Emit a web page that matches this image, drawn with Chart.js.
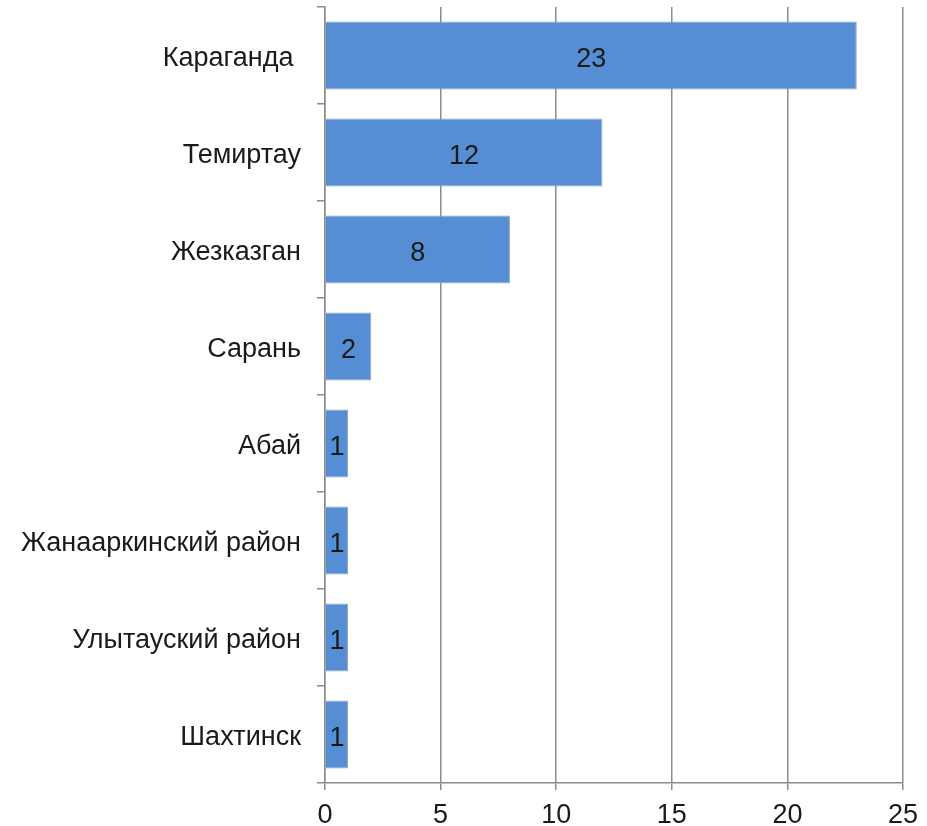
<!DOCTYPE html>
<html>
<head>
<meta charset="utf-8">
<script src="https://cdn.jsdelivr.net/npm/chart.js@4/dist/chart.umd.min.js"></script>
<style>
    html, body { margin: 0; padding: 0; background: #ffffff; }
    #wrap { width: 927px; height: 826px; position: relative; }
</style>
</head>
<body>
<div id="wrap"><canvas id="chart"></canvas></div>
<script>
// Categories and values
const cities = [
    'Караганда ',
    'Темиртау',
    'Жезказган',
    'Сарань',
    'Абай',
    'Жанааркинский район',
    'Улытауский район',
    'Шахтинск'
];
const counts = [23, 12, 8, 2, 1, 1, 1, 1];
const xTicks = [0, 5, 10, 15, 20, 25];

const FONT = "'Liberation Sans', Arial, sans-serif";
const FONT_SIZE = 27;
const GRID = '#8c8c8c';

// Draw values in the middle of each bar
const barValues = {
    id: 'barValues',
    afterDatasetsDraw(chart) {
        const ctx = chart.ctx;
        const meta = chart.getDatasetMeta(0);
        ctx.save();
        ctx.font = FONT_SIZE + 'px ' + FONT;
        ctx.fillStyle = '#1a1a1a';
        ctx.textAlign = 'center';
        ctx.textBaseline = 'middle';
        meta.data.forEach((bar, i) => {
            const cx = (bar.x + bar.base) / 2;
            ctx.fillText(String(counts[i]), cx, bar.y + 4);
        });
        ctx.restore();
    }
};

new Chart(document.getElementById('chart'), {
    type: 'bar',
    data: {
        labels: cities,
        datasets: [{
            data: counts,
            backgroundColor: '#558ed5',
            borderColor: '#97a3bb',
            borderWidth: 1,
            barPercentage: 0.70,
            categoryPercentage: 1.0
        }]
    },
    options: {
        indexAxis: 'y',
        responsive: true,
        maintainAspectRatio: false,
        animation: false,
        layout: { padding: { left: 0, right: 24, top: 7, bottom: 0 } },
        plugins: {
            legend: { display: false },
            tooltip: { enabled: false }
        },
        scales: {
            x: {
                min: 0,
                max: 25,
                afterBuildTicks: scale => {
                    scale.ticks = xTicks.map(v => ({ value: v }));
                },
                afterFit: scale => {
                    scale.height = 43;
                    scale.paddingLeft = 0;
                    scale.paddingRight = 0;
                },
                grid: {
                    color: GRID,
                    lineWidth: 1.5,
                    tickLength: 7,
                    drawTicks: true
                },
                border: { color: GRID, width: 1.5 },
                ticks: {
                    color: '#1a1a1a',
                    font: { family: FONT, size: FONT_SIZE },
                    padding: 9,
                    maxRotation: 0
                }
            },
            y: {
                afterFit: scale => {
                    scale.width = 325;
                    scale.paddingTop = 0;
                    scale.paddingBottom = 0;
                },
                grid: {
                    drawOnChartArea: false,
                    color: GRID,
                    lineWidth: 1.5,
                    tickLength: 8
                },
                border: { color: GRID, width: 1.5 },
                ticks: {
                    color: '#1a1a1a',
                    // empty first line nudges the name a few px down, as in the picture
                    callback: (value, i) => ['', cities[i]],
                    font: { family: FONT, size: FONT_SIZE, lineHeight: '7px' },
                    padding: 16
                }
            }
        }
    },
    plugins: [barValues]
});
</script>
</body>
</html>
